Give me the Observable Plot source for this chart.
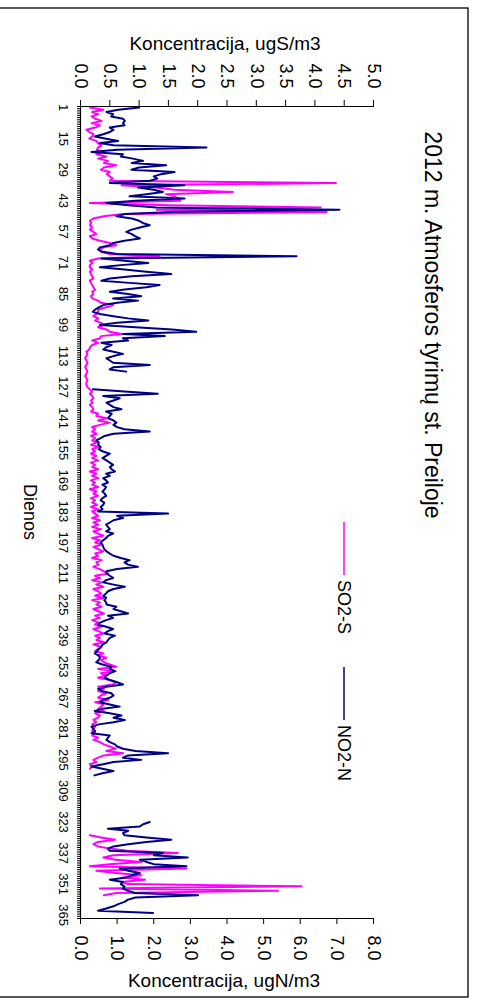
<!DOCTYPE html>
<html><head><meta charset="utf-8">
<script src="https://cdn.jsdelivr.net/npm/d3@7"></script>
<script src="https://cdn.jsdelivr.net/npm/@observablehq/plot@0.6"></script>
<style>
html,body{margin:0;padding:0;background:#fff;overflow:hidden;width:478px;height:1005px}
#wrap{position:absolute;left:0;top:0;width:1005px;height:478px;transform-origin:0 0;transform:translate(478px,0) rotate(90deg)}
svg text{font-family:"Liberation Sans",Arial,sans-serif}
</style></head><body><div id="wrap"></div>
<script>
const title = "2012 m. Atmosferos tyrimų st. Preiloje";
const xTitle = "Dienos";
const yLeftTitle = "Koncentracija, ugS/m3";
const yRightTitle = "Koncentracija, ugN/m3";
const seriesNames = ["SO2-S", "NO2-N"];
const seriesColors = ["#ff00ff", "#000080"];
const dayTicks = [1,15,29,43,57,71,85,99,113,127,141,155,169,183,197,211,225,239,253,267,281,295,309,323,337,351,365];
const so2Ticks = [0,0.5,1,1.5,2,2.5,3,3.5,4,4.5,5];
const no2Ticks = [0,1,2,3,4,5,6,7,8];
const N = null;
const no2 = [
1.6,1.03,0.71,0.89,0.84,1.16,1.21,1.16,1.2,0.8,
0.9,0.8,0.62,0.39,0.7,1.03,0.53,0.9,3.44,1.0,
0.3,1.16,1.1,1.43,1.71,1.4,2.34,1.6,1.39,2.57,
2.2,2.0,2.1,1.89,0.8,2.84,1.57,2.0,2.25,1.8,
1.34,2.84,1.5,0.71,1.3,2.07,7.07,2.5,1.21,0.98,
1.4,1.6,1.7,1.89,1.62,1.4,1.25,1.4,1.5,1.62,
1.2,0.9,0.8,0.53,0.48,0.6,1.0,5.9,0.57,1.2,
1.85,1.1,0.53,1.2,1.8,2.48,1.4,0.8,0.57,1.34,
2.16,1.8,1.2,0.8,1.3,1.66,0.89,1.57,1.0,0.62,
0.5,0.4,0.34,0.53,0.9,1.3,1.85,1.0,0.53,1.5,
2.5,3.16,1.16,2.3,1.16,1.3,0.57,0.85,0.7,0.62,
0.9,1.16,0.9,0.71,0.8,0.89,1.89,0.9,0.8,1.25,
N,N,N,N,N,N,N,0.34,1.2,2.11,
0.62,1.07,0.9,0.71,0.8,0.9,1.12,0.7,0.85,0.8,
0.75,0.9,0.98,0.9,1.0,1.2,1.89,0.9,0.66,0.55,
0.43,0.5,0.48,0.55,0.5,0.62,0.8,0.7,0.6,0.71,
0.8,0.89,0.8,0.85,0.94,0.7,0.8,0.62,0.7,0.75,
0.6,0.7,0.66,0.6,0.66,0.7,0.6,0.55,0.65,0.62,
0.55,0.6,0.48,2.39,1.0,1.16,0.9,0.8,0.7,0.75,
0.8,0.7,0.89,0.75,0.7,0.62,0.55,0.6,0.62,0.65,
0.71,0.8,0.9,1.1,1.34,1.2,1.3,1.57,1.0,0.71,
0.71,0.8,0.89,0.7,0.62,0.9,1.21,0.9,0.75,0.7,
0.62,0.7,0.65,0.7,0.71,0.98,0.9,1.1,1.3,0.75,
0.89,0.7,0.55,0.48,0.7,0.89,0.75,0.66,0.94,0.8,
0.75,0.71,0.6,0.57,0.5,0.45,0.39,0.5,0.53,0.5,
0.43,0.6,0.84,0.8,0.94,0.8,0.7,0.66,0.8,1.0,
1.16,0.7,0.48,0.6,0.84,0.9,0.8,0.6,0.53,0.8,
1.07,0.6,0.39,0.8,1.12,0.9,1.21,0.9,0.5,0.3,
0.35,0.4,0.3,0.8,0.75,0.71,0.8,0.94,1.0,1.16,
1.5,2.39,1.3,1.16,1.66,0.9,0.62,0.3,0.6,0.9,
0.6,0.38,N,N,N,N,N,N,N,N,
N,N,N,N,N,N,N,N,N,N,
N,N,1.89,1.71,1.62,0.75,1.3,1.16,1.2,1.8,
2.48,1.8,1.3,0.9,0.75,0.8,2.25,2.0,2.93,1.62,
1.8,2.0,2.89,1.07,1.3,1.62,1.4,1.25,0.8,1.16,
1.1,1.2,1.16,1.3,1.48,3.21,1.5,1.3,1.2,1.03,
0.9,0.7,0.48,1.98,N,N];
const so2 = [
0.16,0.39,0.2,0.3,0.19,0.25,0.36,0.19,0.33,0.25,
0.1,0.15,0.22,0.2,0.15,0.27,0.3,0.36,0.3,0.28,
0.36,0.27,0.44,0.3,0.47,0.4,0.61,0.4,0.35,0.5,
0.45,0.5,0.55,0.5,4.36,0.7,1.3,1.6,2.6,1.46,
1.6,1.66,1.7,0.16,1.5,4.1,1.3,4.2,0.73,0.4,
0.22,0.16,0.18,0.16,0.2,0.16,0.22,0.27,0.16,0.2,
0.33,0.5,0.61,0.39,0.33,0.35,0.5,1.35,0.3,0.16,
0.2,0.16,0.16,0.2,0.16,0.18,0.2,0.22,0.16,0.18,
0.2,0.22,0.25,0.2,0.22,0.18,0.2,0.3,0.35,0.56,
0.44,0.3,0.3,0.27,0.22,0.3,0.25,0.35,0.39,0.3,
0.44,0.5,0.7,0.35,0.33,0.2,0.3,0.2,0.16,0.15,
0.1,0.12,0.1,0.08,0.1,0.12,0.1,0.08,0.1,0.12,
0.1,0.08,0.1,0.12,0.1,0.1,0.12,0.16,0.2,0.16,
0.2,0.22,0.18,0.2,0.16,0.2,0.22,0.18,0.3,0.27,
0.44,0.3,0.5,0.33,0.2,0.25,0.2,0.27,0.18,0.25,
0.2,0.27,0.18,0.3,0.2,0.25,0.18,0.27,0.2,0.3,
0.18,0.25,0.2,0.3,0.16,0.27,0.2,0.3,0.18,0.25,
0.2,0.3,0.16,0.27,0.22,0.3,0.18,0.25,0.2,0.28,
0.18,0.3,0.2,0.25,0.3,0.2,0.33,0.22,0.3,0.2,
0.35,0.22,0.3,0.39,0.2,0.33,0.25,0.36,0.22,0.3,
0.39,0.25,0.3,0.2,0.36,0.27,0.3,0.22,0.33,0.4,
0.47,0.25,0.33,0.2,0.36,0.27,0.39,0.22,0.3,0.35,
0.25,0.39,0.2,0.33,0.27,0.36,0.22,0.3,0.4,0.25,
0.33,0.2,0.3,0.25,0.36,0.22,0.3,0.39,0.25,0.33,
0.27,0.4,0.22,0.35,0.3,0.25,0.39,0.3,0.44,0.35,
0.4,0.5,0.61,0.3,0.6,0.35,0.44,0.3,0.5,0.61,
0.55,0.3,0.4,0.3,0.44,0.35,0.3,0.47,0.25,0.39,
0.36,0.3,0.4,0.25,0.33,0.3,0.22,0.27,0.2,0.25,
0.22,0.2,0.25,0.2,0.3,0.22,0.33,0.4,0.5,0.6,
0.44,0.73,0.4,0.3,0.22,0.27,0.16,0.2,0.16,N,
N,N,N,N,N,N,N,N,N,N,
N,N,N,N,N,N,N,N,N,N,
N,N,N,N,N,N,N,N,0.16,0.35,
0.59,0.3,0.22,0.3,0.5,0.8,1.66,0.56,0.39,0.6,
1.04,0.5,0.16,1.81,0.27,0.6,1.04,0.73,1.1,0.7,
0.8,3.77,0.33,3.37,0.61,0.4,N,N,N,N,
N,N,N,N,N,N];

const W = 1005, H = 478;
const days = d3.range(1, so2.length + 1);
const ratio = 5 / 8; // secondary axis (0–8) drawn on primary (0–5)
const rows = days.flatMap((d, i) => [
  {day: d, v: so2[i] == null ? NaN : so2[i], s: seriesNames[0]},
  {day: d, v: no2[i] == null ? NaN : no2[i] * ratio, s: seriesNames[1]}
]);
const bounds = d3.range(0.5, so2.length + 1, 1);

const chart = Plot.plot({
  width: W, height: H,
  marginLeft: 106, marginRight: 87, marginTop: 104, marginBottom: 81,
  style: {fontFamily: "Liberation Sans, Arial, sans-serif", fontSize: "18px", background: "white", color: "#000"},
  x: {domain: [0.5, so2.length + 0.5]},
  y: {domain: [0, 5]},
  marks: [
    Plot.axisX(bounds, {tickSize: 4, tickFormat: () => "", label: null, strokeWidth: 1}),
    Plot.axisX(dayTicks, {tickSize: 0, tickPadding: 12, fontSize: 13, label: null}),
    Plot.axisY(so2Ticks, {anchor: "left", tickSize: 6, tickPadding: 12, tickFormat: d => d.toFixed(1), label: null}),
    Plot.axisY(no2Ticks.map(v => v * ratio), {anchor: "right", tickSize: 5, tickPadding: 12, tickFormat: d => (d / ratio).toFixed(1), label: null}),
    Plot.ruleY([0], {stroke: "#000", strokeWidth: 1.2}),
    Plot.ruleX([0.5, so2.length + 0.5], {stroke: "#000", strokeWidth: 1.2}),
    Plot.line(rows.filter(r => r.s === seriesNames[0]), {x: "day", y: "v", stroke: seriesColors[0], strokeWidth: 2}),
    Plot.line(rows.filter(r => r.s === seriesNames[1]), {x: "day", y: "v", stroke: seriesColors[1], strokeWidth: 2})
  ]
});

const svg = d3.select(chart);
svg.attr("overflow", "visible");
// chart border
svg.append("rect").attr("x", 8).attr("y", 10).attr("width", 989).attr("height", 480)
  .attr("fill", "none").attr("stroke", "#000").attr("stroke-width", 1.3);
// title
svg.append("text").attr("x", 325).attr("y", 53).attr("text-anchor", "middle")
  .attr("font-size", 23).text(title);
// axis titles
svg.append("text").attr("transform", "translate(43,253) rotate(-90)").attr("text-anchor", "middle")
  .attr("dominant-baseline", "central").attr("font-size", 19).text(yLeftTitle);
svg.append("text").attr("transform", "translate(980,254) rotate(-90)").attr("text-anchor", "middle")
  .attr("dominant-baseline", "central").attr("font-size", 19).text(yRightTitle);
svg.append("text").attr("x", 512).attr("y", 448).attr("text-anchor", "middle")
  .attr("dominant-baseline", "central").attr("font-size", 18).text(xTitle);
// legend
const legX = [522, 667];
seriesNames.forEach((n, i) => {
  svg.append("line").attr("x1", legX[i]).attr("x2", legX[i] + 53).attr("y1", 134).attr("y2", 134)
    .attr("stroke", seriesColors[i]).attr("stroke-width", 1.5);
  svg.append("text").attr("x", legX[i] + 58).attr("y", 134).attr("text-anchor", "start")
    .attr("dominant-baseline", "central").attr("font-size", 18).text(n);
});
document.getElementById("wrap").appendChild(chart);
</script>
</body></html>
